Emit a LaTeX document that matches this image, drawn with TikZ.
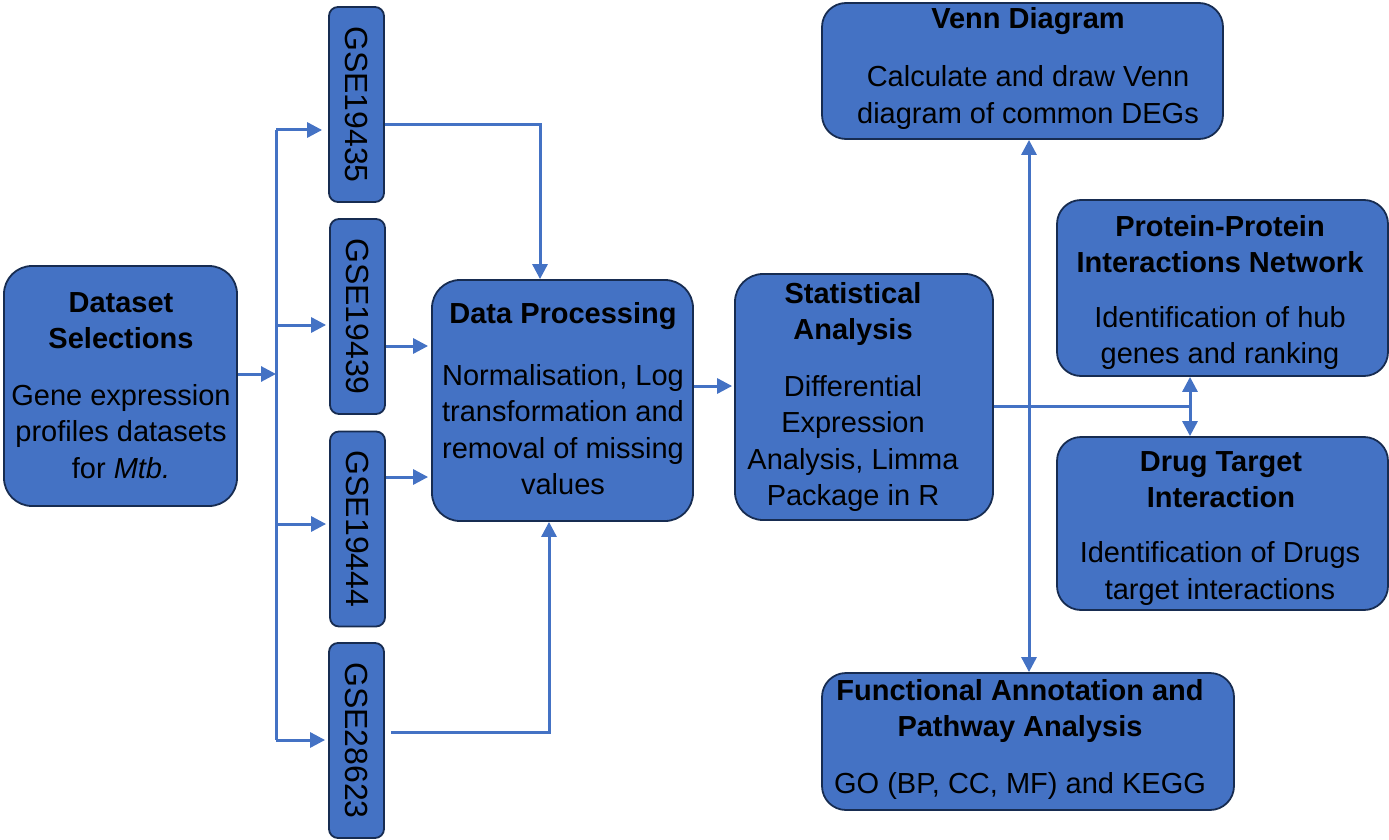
\documentclass[tikz,border=0pt]{standalone}
\usepackage{fontspec}
\setmainfont{Liberation Sans}
\usetikzlibrary{arrows.meta,calc}
\definecolor{boxblue}{HTML}{4472C4}
\definecolor{boxedge}{HTML}{172C51}
\definecolor{linkblue}{HTML}{4472C4}
\begin{document}
\begin{tikzpicture}[x=1pt,y=-1pt,
  bigbox/.style={draw=boxedge, line width=1.8pt, fill=boxblue, rounded corners=28pt, inner sep=0pt},
  gsebox/.style={draw=boxedge, line width=1.8pt, fill=boxblue, rounded corners=9pt, inner sep=0pt, minimum width=55pt, minimum height=195pt, font=\fontsize{32}{36}\selectfont},
  ttl/.style={font=\fontsize{29}{36}\selectfont\bfseries, align=center, inner sep=0pt},
  bdy/.style={font=\fontsize{29}{36.5}\selectfont, align=center, inner sep=0pt},
  conn/.style={draw=linkblue, line width=3pt, -{Triangle[length=15pt,width=15pt]}},
  dconn/.style={draw=linkblue, line width=3pt, {Triangle[length=15pt,width=15pt]}-{Triangle[length=15pt,width=15pt]}},
  plain/.style={draw=linkblue, line width=3pt}]
\useasboundingbox (0,0) rectangle (1389,840);
% boxes
\node[bigbox, minimum width=233pt, minimum height=240pt] (ds) at (120.5,386) {};
\node[gsebox] (g1) at (356.5,104.5) {\rotatebox{-90}{GSE19435}};
\node[gsebox] (g2) at (357.5,316.5) {\rotatebox{-90}{GSE19439}};
\node[gsebox] (g3) at (357.5,529) {\rotatebox{-90}{GSE19444}};
\node[gsebox] (g4) at (356.5,740.5) {\rotatebox{-90}{GSE28623}};
\node[bigbox, minimum width=261pt, minimum height=241pt] (dp) at (562.5,400.5) {};
\node[bigbox, minimum width=258pt, minimum height=246pt] (st) at (864,397) {};
\node[bigbox, minimum width=401pt, minimum height=136pt, rounded corners=24pt] (venn) at (1022.5,71) {};
\node[bigbox, minimum width=331pt, minimum height=176pt, rounded corners=24pt] (ppi) at (1222.5,288) {};
\node[bigbox, minimum width=331pt, minimum height=173pt, rounded corners=24pt] (drug) at (1222.5,523.5) {};
\node[bigbox, minimum width=412pt, minimum height=137pt, rounded corners=24pt] (func) at (1028,741.5) {};
% texts
\node[ttl] (dsT) at (121,320.5) {Dataset\\Selections};
\node[bdy] (dsB) at (121,431.5) {Gene expression\\profiles datasets\\for \textit{Mtb.}};
\node[ttl] (dpT) at (563,316.5) {Data Processing};
\node[bdy] (dpB) at (563,429.5) {Normalisation, Log\\transformation and\\removal of missing\\values};
\node[ttl] (stT) at (853,313.5) {Statistical\\Analysis};
\node[bdy] (stB) at (853,443.5) {Differential\\Expression\\Analysis, Limma\\Package in R};
\node[ttl] (vennT) at (1028,21.5) {Venn Diagram};
\node[bdy] (vennB) at (1028,97.5) {Calculate and draw Venn\\diagram of common DEGs};
\node[ttl] (ppiT) at (1220,244) {Protein-Protein\\Interactions Network};
\node[bdy] (ppiB) at (1220,338) {Identification of hub\\genes and ranking};
\node[ttl] (drugT) at (1221,480) {Drug Target\\Interaction};
\node[bdy] (drugB) at (1220,573.5) {Identification of Drugs\\target interactions};
\node[ttl] (funcT) at (1020,710.5) {Functional Annotation and\\Pathway Analysis};
\node[bdy] (funcB) at (1020,785.5) {GO (BP, CC, MF) and KEGG};
% connectors
\coordinate (trunkTop) at (276,130);
\coordinate (trunkMid) at (276,374);
\coordinate (trunkBot) at (276,740);
\coordinate (jn) at (1190,406);
\draw[conn] ([yshift=12pt]ds.east) -- (trunkMid);
\draw[plain] (trunkTop) -- (trunkBot);
\draw[conn, shorten >=6pt] (trunkTop) -- (trunkTop -| g1.west);
\draw[conn, shorten >=3pt] (trunkMid |- 0,325) -- (g2.west |- 0,325);
\draw[conn, shorten >=3pt] (trunkMid |- 0,524) -- (g3.west |- 0,524);
\draw[conn, shorten >=3pt] (trunkBot) -- (trunkBot -| g4.west);
\draw[conn] ([yshift=-20.5pt]g1.east) -| ([xshift=-22.5pt]dp.north);
\draw[conn, shorten >=3pt] ([yshift=-29.5pt]g2.east) -- ([yshift=-29.5pt]g2.east -| dp.west);
\draw[conn, shorten >=3pt] ([yshift=52pt]g3.east) -- ([yshift=52pt]g3.east -| dp.west);
\draw[conn] ([xshift=6pt,yshift=8.5pt]g4.east) -| ([xshift=-13.5pt]dp.south);
\draw[conn, shorten >=2pt] ([yshift=14.5pt]dp.east) -- ([yshift=14.5pt]dp.east -| st.west);
\draw[plain] ([yshift=-9pt]st.east) -- (jn);
\draw[dconn] (ppi.south -| jn) -- (drug.north -| jn);
\draw[dconn] ([xshift=6.5pt]venn.south) -- ([xshift=1pt]func.north);
\end{tikzpicture}
\end{document}
